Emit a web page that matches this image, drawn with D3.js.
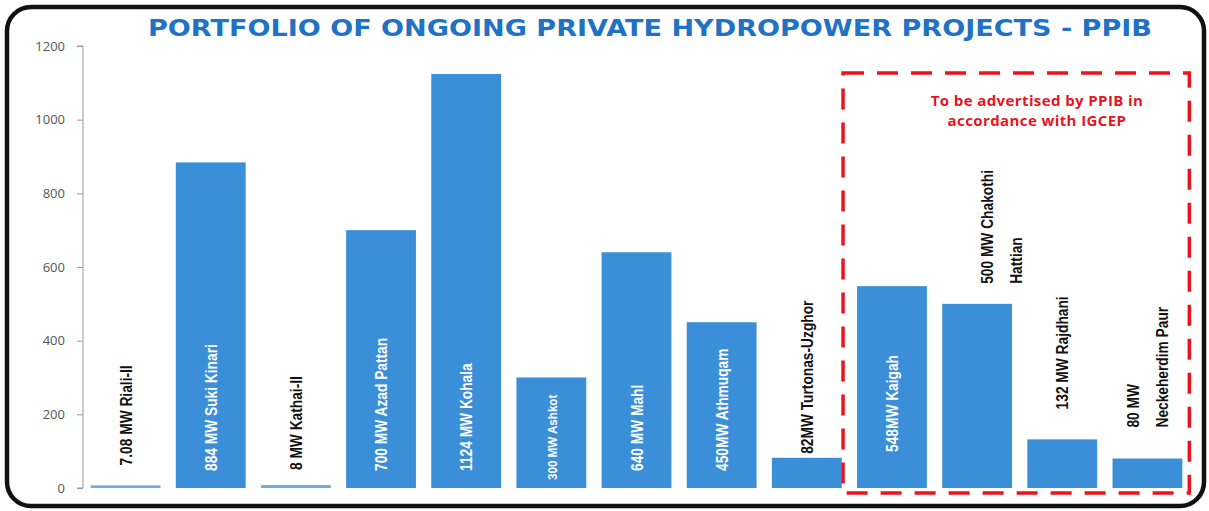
<!DOCTYPE html>
<html>
<head>
<meta charset="utf-8">
<script src="https://cdn.jsdelivr.net/npm/d3@7"></script>
<style>
  body { margin: 0; background: #fff; }
  svg { display: block; }
</style>
</head>
<body>
<div id="chart"></div>
<script>
// project names (label lines) and capacities in MW
const projects = [
    ["7.08 MW Riali-II"],
    ["884 MW Suki Kinari"],
    ["8 MW Kathai-II"],
    ["700 MW Azad Pattan"],
    ["1124 MW Kohala"],
    ["300 MW Ashkot"],
    ["640 MW Mahl"],
    ["450MW Athmuqam"],
    ["82MW Turtonas-Uzghor"],
    ["548MW Kaigah"],
    ["500 MW Chakothi", "Hattian"],
    ["132 MW Rajdhani"],
    ["80 MW", "Neckeherdim Paur"]
];
const capacity = [7.08, 884, 8, 700, 1124, 300, 640, 450, 82, 548, 500, 132, 80];
const labelInside = [false, true, false, true, true, true, true, true, false, true, false, false, false];
const advertised = [9, 10, 11, 12]; // indexes inside the red box
const yTicks = [0, 200, 400, 600, 800, 1000, 1200];
const titleText = "PORTFOLIO OF ONGOING PRIVATE HYDROPOWER PROJECTS - PPIB";
const noteLines = ["To be advertised by PPIB in", "accordance with IGCEP"];

const W = 1209, H = 511;
const svg = d3.select("#chart").append("svg").attr("width", W).attr("height", H);

// rounded black frame
svg.append("rect")
    .attr("x", 7).attr("y", 7).attr("width", W - 12).attr("height", H - 12)
    .attr("rx", 24).attr("ry", 24)
    .attr("fill", "#fff").attr("stroke", "#111").attr("stroke-width", 4.5);

svg.append("text")
    .attr("x", 650).attr("y", 36)
    .attr("text-anchor", "middle")
    .attr("font-family", "DejaVu Sans, sans-serif")
    .attr("font-weight", 700)
    .attr("font-size", 23)
    .attr("textLength", 1004)
    .attr("lengthAdjust", "spacingAndGlyphs")
    .attr("fill", "#1f72c4")
    .text(titleText);

const x = d3.scaleBand()
    .domain(d3.range(capacity.length))
    .range([83, 1190])
    .paddingInner(0.18)
    .paddingOuter(0.09);

const y = d3.scaleLinear().domain([0, 1200]).range([488, 46]);

// y axis
const yAxis = svg.append("g")
    .attr("transform", "translate(83,0)")
    .call(d3.axisLeft(y).tickValues(yTicks).tickSize(6).tickPadding(12).tickFormat(d3.format("d")));
yAxis.select(".domain").attr("stroke", "#9a9a9a").attr("d", "M-6,46H0V488H-6");
yAxis.selectAll(".tick line").attr("stroke", "#9a9a9a");
yAxis.selectAll(".tick text")
    .attr("fill", "#555")
    .attr("font-family", "Open Sans, sans-serif")
    .attr("font-size", 13);

// bars
svg.append("g").selectAll("rect")
    .data(capacity)
    .join("rect")
    .attr("x", (d, i) => x(i))
    .attr("width", x.bandwidth())
    .attr("y", d => y(d))
    .attr("height", d => Math.max(2, y(0) - y(d)))
    .attr("fill", d => d < 20 ? "#6aaed9" : "#3b8fd9");

// rotated labels, narrow bold text
const lineGap = 29;
const insideBottom = { 5: 8, 9: 36 };            // distance of label start above the axis
const outsideLift = { 0: 20, 2: 15, 8: 4, 10: 20, 11: 30, 12: 31 }; // gap above bar top
const lineShift = { 10: 24, 12: 0 };
const labels = svg.append("g");
projects.forEach((lines, i) => {
    const cx = x(i) + x.bandwidth() / 2;
    const inside = labelInside[i];
    const base = inside ? y(0) - (insideBottom[i] !== undefined ? insideBottom[i] : 17)
                        : y(capacity[i]) - outsideLift[i];
    const offset = -(lines.length - 1) * lineGap / 2 + (lineShift[i] || 0);
    lines.forEach((line, j) => {
        const lx = cx + offset + j * lineGap + 6;
        labels.append("text")
            .attr("transform", `translate(${lx},${base}) rotate(-90) scale(0.86,1)`)
            .attr("text-anchor", "start")
            .attr("font-family", "Liberation Sans, Arial, sans-serif")
            .attr("font-weight", 700)
            .attr("font-size", i === 5 ? 13.5 : 16)
            .attr("fill", inside ? "#fff" : "#111")
            .text(line);
    });
});

// red dashed box round the projects to be advertised
const boxLeft = x(advertised[0]) - 14;
const boxRight = x(advertised[advertised.length - 1]) + x.bandwidth() + 7;
svg.append("rect")
    .attr("x", boxLeft).attr("y", 73)
    .attr("width", boxRight - boxLeft).attr("height", y(0) + 5 - 73)
    .attr("fill", "none")
    .attr("stroke", "#e8141e")
    .attr("stroke-width", 3.5)
    .attr("stroke-dasharray", "21,13");

svg.append("g").selectAll("text")
    .data(noteLines)
    .join("text")
    .attr("x", 1037)
    .attr("y", (d, i) => 106 + i * 20)
    .attr("text-anchor", "middle")
    .attr("font-family", "Open Sans, sans-serif")
    .attr("font-weight", 700)
    .attr("font-size", 15)
    .attr("letter-spacing", 0.4)
    .attr("fill", "#e8141e")
    .text(d => d);
</script>
</body>
</html>
